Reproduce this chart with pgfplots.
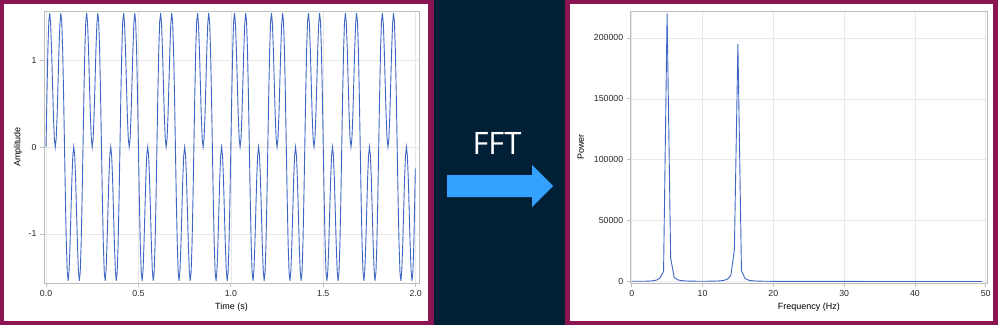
\documentclass[border=0pt]{standalone}
\usepackage{fontspec}
\setmainfont{Liberation Sans}
\newfontfamily\fftfont{Open Sans}
\usepackage{pgfplots}
\pgfplotsset{compat=1.18}
\definecolor{maroon}{RGB}{139,21,82}
\definecolor{navy}{RGB}{1,32,54}
\definecolor{arrowblue}{RGB}{51,161,255}
\definecolor{lineblue}{RGB}{62,102,196}
\definecolor{gridgray}{RGB}{232,232,232}
\definecolor{axisgray}{RGB}{190,190,190}
\definecolor{textgray}{RGB}{40,40,40}
\pgfplotsset{
 myaxis/.style={
  scale only axis, anchor=south west,
  axis line style={axisgray, line width=0.8bp},
  major tick style={axisgray, line width=0.8bp},
  tick align=outside, major tick length=4bp,
  tick pos=left,
  grid=major, major grid style={gridgray, line width=0.6bp},
  tick label style={font=\fontsize{8.8}{10}\selectfont, text=textgray},
  label style={font=\fontsize{9}{11}\selectfont, text=black},
  /pgf/number format/assume math mode=true,
 }
}
\begin{document}
\begin{tikzpicture}[x=1bp,y=1bp]
\fill[maroon] (0,0) rectangle (434,325);
\fill[white] (4,4) rectangle (428,321);
\fill[navy] (434,0) rectangle (565,325);
\fill[maroon] (565,0) rectangle (998,325);
\fill[white] (570,4) rectangle (993,321);
\fill[arrowblue] (447,128) -- (532,128) -- (532,118) -- (553,139) -- (532,160) -- (532,150) -- (447,150) -- cycle;
\node[text=white, font=\fftfont\fontsize{31}{36}\selectfont] at (497,182) {FFT};

\begin{axis}[myaxis, at={(44bp,42bp)}, width=375bp, height=272bp,
 xmin=-0.011, xmax=2.018, ymin=-1.565, ymax=1.565,
 xtick={0,0.5,1,1.5,2}, xticklabels={0.0,0.5,1.0,1.5,2.0}, ytick={-1,0,1},
 xlabel={Time (s)}, ylabel={Amplitude},
 xlabel style={at={(axis description cs:0.5,-0.0871)}, anchor=center},
 ylabel style={at={(axis description cs:-0.0693,0.5)}, anchor=center},
]
\addplot[lineblue, line width=0.9bp] coordinates {
(0,0)(0.005,0.610)(0.01,1.118)(0.015,1.442)(0.02,1.539)(0.025,1.414)(0.03,1.118)(0.035,0.735)(0.04,0.363)(0.045,0.097)
(0.05,0)(0.055,0.097)(0.06,0.363)(0.065,0.735)(0.07,1.118)(0.075,1.414)(0.08,1.539)(0.085,1.442)(0.09,1.118)(0.095,0.610)
(0.1,0)(0.105,-0.610)(0.11,-1.118)(0.115,-1.442)(0.12,-1.539)(0.125,-1.414)(0.13,-1.118)(0.135,-0.735)(0.14,-0.363)(0.145,-0.097)
(0.15,0)(0.155,-0.097)(0.16,-0.363)(0.165,-0.735)(0.17,-1.118)(0.175,-1.414)(0.18,-1.539)(0.185,-1.442)(0.19,-1.118)(0.195,-0.610)
(0.2,0)(0.205,0.610)(0.21,1.118)(0.215,1.442)(0.22,1.539)(0.225,1.414)(0.23,1.118)(0.235,0.735)(0.24,0.363)(0.245,0.097)
(0.25,0)(0.255,0.097)(0.26,0.363)(0.265,0.735)(0.27,1.118)(0.275,1.414)(0.28,1.539)(0.285,1.442)(0.29,1.118)(0.295,0.610)
(0.3,0)(0.305,-0.610)(0.31,-1.118)(0.315,-1.442)(0.32,-1.539)(0.325,-1.414)(0.33,-1.118)(0.335,-0.735)(0.34,-0.363)(0.345,-0.097)
(0.35,0)(0.355,-0.097)(0.36,-0.363)(0.365,-0.735)(0.37,-1.118)(0.375,-1.414)(0.38,-1.539)(0.385,-1.442)(0.39,-1.118)(0.395,-0.610)
(0.4,0)(0.405,0.610)(0.41,1.118)(0.415,1.442)(0.42,1.539)(0.425,1.414)(0.43,1.118)(0.435,0.735)(0.44,0.363)(0.445,0.097)
(0.45,0)(0.455,0.097)(0.46,0.363)(0.465,0.735)(0.47,1.118)(0.475,1.414)(0.48,1.539)(0.485,1.442)(0.49,1.118)(0.495,0.610)
(0.5,0)(0.505,-0.610)(0.51,-1.118)(0.515,-1.442)(0.52,-1.539)(0.525,-1.414)(0.53,-1.118)(0.535,-0.735)(0.54,-0.363)(0.545,-0.097)
(0.55,0)(0.555,-0.097)(0.56,-0.363)(0.565,-0.735)(0.57,-1.118)(0.575,-1.414)(0.58,-1.539)(0.585,-1.442)(0.59,-1.118)(0.595,-0.610)
(0.6,0)(0.605,0.610)(0.61,1.118)(0.615,1.442)(0.62,1.539)(0.625,1.414)(0.63,1.118)(0.635,0.735)(0.64,0.363)(0.645,0.097)
(0.65,0)(0.655,0.097)(0.66,0.363)(0.665,0.735)(0.67,1.118)(0.675,1.414)(0.68,1.539)(0.685,1.442)(0.69,1.118)(0.695,0.610)
(0.7,0)(0.705,-0.610)(0.71,-1.118)(0.715,-1.442)(0.72,-1.539)(0.725,-1.414)(0.73,-1.118)(0.735,-0.735)(0.74,-0.363)(0.745,-0.097)
(0.75,0)(0.755,-0.097)(0.76,-0.363)(0.765,-0.735)(0.77,-1.118)(0.775,-1.414)(0.78,-1.539)(0.785,-1.442)(0.79,-1.118)(0.795,-0.610)
(0.8,0)(0.805,0.610)(0.81,1.118)(0.815,1.442)(0.82,1.539)(0.825,1.414)(0.83,1.118)(0.835,0.735)(0.84,0.363)(0.845,0.097)
(0.85,0)(0.855,0.097)(0.86,0.363)(0.865,0.735)(0.87,1.118)(0.875,1.414)(0.88,1.539)(0.885,1.442)(0.89,1.118)(0.895,0.610)
(0.9,0)(0.905,-0.610)(0.91,-1.118)(0.915,-1.442)(0.92,-1.539)(0.925,-1.414)(0.93,-1.118)(0.935,-0.735)(0.94,-0.363)(0.945,-0.097)
(0.95,0)(0.955,-0.097)(0.96,-0.363)(0.965,-0.735)(0.97,-1.118)(0.975,-1.414)(0.98,-1.539)(0.985,-1.442)(0.99,-1.118)(0.995,-0.610)
(1,0)(1.005,0.610)(1.01,1.118)(1.015,1.442)(1.02,1.539)(1.025,1.414)(1.03,1.118)(1.035,0.735)(1.04,0.363)(1.045,0.097)
(1.05,0)(1.055,0.097)(1.06,0.363)(1.065,0.735)(1.07,1.118)(1.075,1.414)(1.08,1.539)(1.085,1.442)(1.09,1.118)(1.095,0.610)
(1.1,0)(1.105,-0.610)(1.11,-1.118)(1.115,-1.442)(1.12,-1.539)(1.125,-1.414)(1.13,-1.118)(1.135,-0.735)(1.14,-0.363)(1.145,-0.097)
(1.15,0)(1.155,-0.097)(1.16,-0.363)(1.165,-0.735)(1.17,-1.118)(1.175,-1.414)(1.18,-1.539)(1.185,-1.442)(1.19,-1.118)(1.195,-0.610)
(1.2,0)(1.205,0.610)(1.21,1.118)(1.215,1.442)(1.22,1.539)(1.225,1.414)(1.23,1.118)(1.235,0.735)(1.24,0.363)(1.245,0.097)
(1.25,0)(1.255,0.097)(1.26,0.363)(1.265,0.735)(1.27,1.118)(1.275,1.414)(1.28,1.539)(1.285,1.442)(1.29,1.118)(1.295,0.610)
(1.3,0)(1.305,-0.610)(1.31,-1.118)(1.315,-1.442)(1.32,-1.539)(1.325,-1.414)(1.33,-1.118)(1.335,-0.735)(1.34,-0.363)(1.345,-0.097)
(1.35,0)(1.355,-0.097)(1.36,-0.363)(1.365,-0.735)(1.37,-1.118)(1.375,-1.414)(1.38,-1.539)(1.385,-1.442)(1.39,-1.118)(1.395,-0.610)
(1.4,0)(1.405,0.610)(1.41,1.118)(1.415,1.442)(1.42,1.539)(1.425,1.414)(1.43,1.118)(1.435,0.735)(1.44,0.363)(1.445,0.097)
(1.45,0)(1.455,0.097)(1.46,0.363)(1.465,0.735)(1.47,1.118)(1.475,1.414)(1.48,1.539)(1.485,1.442)(1.49,1.118)(1.495,0.610)
(1.5,0)(1.505,-0.610)(1.51,-1.118)(1.515,-1.442)(1.52,-1.539)(1.525,-1.414)(1.53,-1.118)(1.535,-0.735)(1.54,-0.363)(1.545,-0.097)
(1.55,0)(1.555,-0.097)(1.56,-0.363)(1.565,-0.735)(1.57,-1.118)(1.575,-1.414)(1.58,-1.539)(1.585,-1.442)(1.59,-1.118)(1.595,-0.610)
(1.6,0)(1.605,0.610)(1.61,1.118)(1.615,1.442)(1.62,1.539)(1.625,1.414)(1.63,1.118)(1.635,0.735)(1.64,0.363)(1.645,0.097)
(1.65,0)(1.655,0.097)(1.66,0.363)(1.665,0.735)(1.67,1.118)(1.675,1.414)(1.68,1.539)(1.685,1.442)(1.69,1.118)(1.695,0.610)
(1.7,0)(1.705,-0.610)(1.71,-1.118)(1.715,-1.442)(1.72,-1.539)(1.725,-1.414)(1.73,-1.118)(1.735,-0.735)(1.74,-0.363)(1.745,-0.097)
(1.75,0)(1.755,-0.097)(1.76,-0.363)(1.765,-0.735)(1.77,-1.118)(1.775,-1.414)(1.78,-1.539)(1.785,-1.442)(1.79,-1.118)(1.795,-0.610)
(1.8,0)(1.805,0.610)(1.81,1.118)(1.815,1.442)(1.82,1.539)(1.825,1.414)(1.83,1.118)(1.835,0.735)(1.84,0.363)(1.845,0.097)
(1.85,0)(1.855,0.097)(1.86,0.363)(1.865,0.735)(1.87,1.118)(1.875,1.414)(1.88,1.539)(1.885,1.442)(1.89,1.118)(1.895,0.610)
(1.9,0)(1.905,-0.610)(1.91,-1.118)(1.915,-1.442)(1.92,-1.539)(1.925,-1.414)(1.93,-1.118)(1.935,-0.735)(1.94,-0.363)(1.945,-0.097)
(1.95,0)(1.955,-0.097)(1.96,-0.363)(1.965,-0.735)(1.97,-1.118)(1.975,-1.414)(1.98,-1.539)(1.985,-1.442)(1.99,-1.118)(1.995,-0.610)
(1.998,-0.250)
};
\end{axis}

\begin{axis}[myaxis, at={(630.7bp,42bp)}, width=356.3bp, height=272bp,
 xmin=-0.14, xmax=50.18, ymin=-1200, ymax=222100,
 xtick={0,10,20,30,40,50}, ytick={0,50000,100000,150000,200000},
 scaled y ticks=false,
 yticklabel style={/pgf/number format/.cd, fixed, 1000 sep={}},
 xlabel={Frequency (Hz)}, ylabel={Power},
 xlabel style={at={(axis description cs:0.5,-0.0871)}, anchor=center},
 ylabel style={at={(axis description cs:-0.1403,0.5)}, anchor=center},
]
\addplot[lineblue, line width=0.9bp] coordinates {
(0,200)(0.5,200)(1,210)(1.5,230)(2,280)(2.5,380)(3,650)(3.5,1200)(4,2800)(4.5,8500)
(5,220000)(5.5,19500)(6,3300)(6.5,1400)(7,780)(7.5,520)(8,390)(8.5,320)(9,280)(9.5,260)
(10,250)(10.5,260)(11,290)(11.5,340)(12,430)(12.5,580)(13,950)(13.5,1900)(14,5000)(14.5,26000)
(15,195000)(15.5,9000)(16,2500)(16.5,1150)(17,680)(17.5,470)(18,350)(18.5,280)(19,230)(19.5,200)
(20,175)(20.5,160)(21,150)(21.5,140)(22,132)(22.5,125)(23,120)(23.5,115)(24,110)(24.5,106)
(25,102)(25.5,99)(26,96)(26.5,93)(27,91)(27.5,89)(28,87)(28.5,85)(29,83)(29.5,82)
(30,80)(30.5,79)(31,78)(31.5,77)(32,76)(32.5,75)(33,74)(33.5,73)(34,72)(34.5,72)
(35,71)(35.5,70)(36,70)(36.5,69)(37,69)(37.5,68)(38,68)(38.5,67)(39,67)(39.5,66)
(40,66)(40.5,66)(41,65)(41.5,65)(42,65)(42.5,64)(43,64)(43.5,64)(44,64)(44.5,63)
(45,63)(45.5,63)(46,63)(46.5,63)(47,62)(47.5,62)(48,62)(48.5,62)(49,62)(49.5,62)
};
\end{axis}
\end{tikzpicture}
\end{document}
